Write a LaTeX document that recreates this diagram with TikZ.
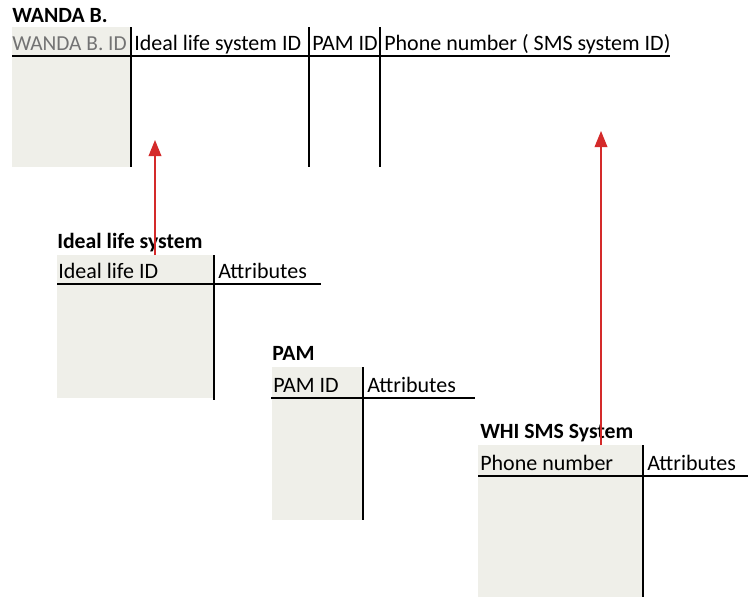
\documentclass[tikz,border=0pt]{standalone}
\usepackage{fontspec}
\setmainfont{Carlito}
\usetikzlibrary{arrows.meta}
\definecolor{keygray}{HTML}{EFEFE9}
\definecolor{arrred}{HTML}{D42A2A}
\begin{document}
\begin{tikzpicture}[x=0.75pt,y=-0.75pt,
  title/.style={anchor=base west,inner sep=0pt,font=\fontsize{16.3}{18}\selectfont\bfseries},
  head/.style={anchor=base west,inner sep=0pt,font=\fontsize{16.5}{18}\selectfont},
  rule/.style={line width=2pt,black},
  link/.style={draw=arrred,line width=1pt,-{Triangle[length=12pt,width=9.5pt]}}]
\useasboundingbox[fill=white] (0,0) rectangle (748,597);
% WANDA B.
\fill[keygray] (12,27) rectangle (130,167);
\node[title] (wt) at (12,22) {WANDA B.};
\node[head,text=black!55,font=\fontsize{16}{18}\selectfont] (w1) at (12,50) {WANDA B. ID};
\node[head] (w2) at (134,50) {Ideal life system ID};
\node[head] (w3) at (312,50) {PAM ID};
\node[head] (w4) at (384,50) {Phone number ( SMS system ID)};
\draw[rule] (12,56) -- (670,56);
\draw[rule] (131,27) -- (131,167);
\draw[rule] (309,27) -- (309,167);
\draw[rule] (380,27) -- (380,167);
% Ideal life system
\fill[keygray] (57,255) rectangle (213,398);
\node[title] (it) at (57,248) {Ideal life system};
\node[head] (i1) at (58,278) {Ideal life ID};
\node[head] (i2) at (218,278) {Attributes};
\draw[rule] (57,284) -- (321,284);
\draw[rule] (214,255) -- (214,400);
% PAM
\fill[keygray] (272,367) rectangle (362,520);
\node[title] (pt) at (272,360) {PAM};
\node[head] (p1) at (273,392) {PAM ID};
\node[head] (p2) at (367,392) {Attributes};
\draw[rule] (271,398) -- (475,398);
\draw[rule] (363,367) -- (363,520);
% WHI SMS System
\fill[keygray] (478,445) rectangle (642,597);
\node[title] (st) at (480,438) {WHI SMS System};
\node[head] (s1) at (480,470) {Phone number};
\node[head] (s2) at (647,470) {Attributes};
\draw[rule] (478,476) -- (748,476);
\draw[rule] (643,445) -- (643,597);
% links
\coordinate (ia) at (155,255);
\coordinate (wa) at (155,140);
\coordinate (sa) at (601,445);
\coordinate (wb) at (601,131);
\draw[link] (ia) -- (wa);
\draw[link] (sa) -- (wb);
\end{tikzpicture}
\end{document}
